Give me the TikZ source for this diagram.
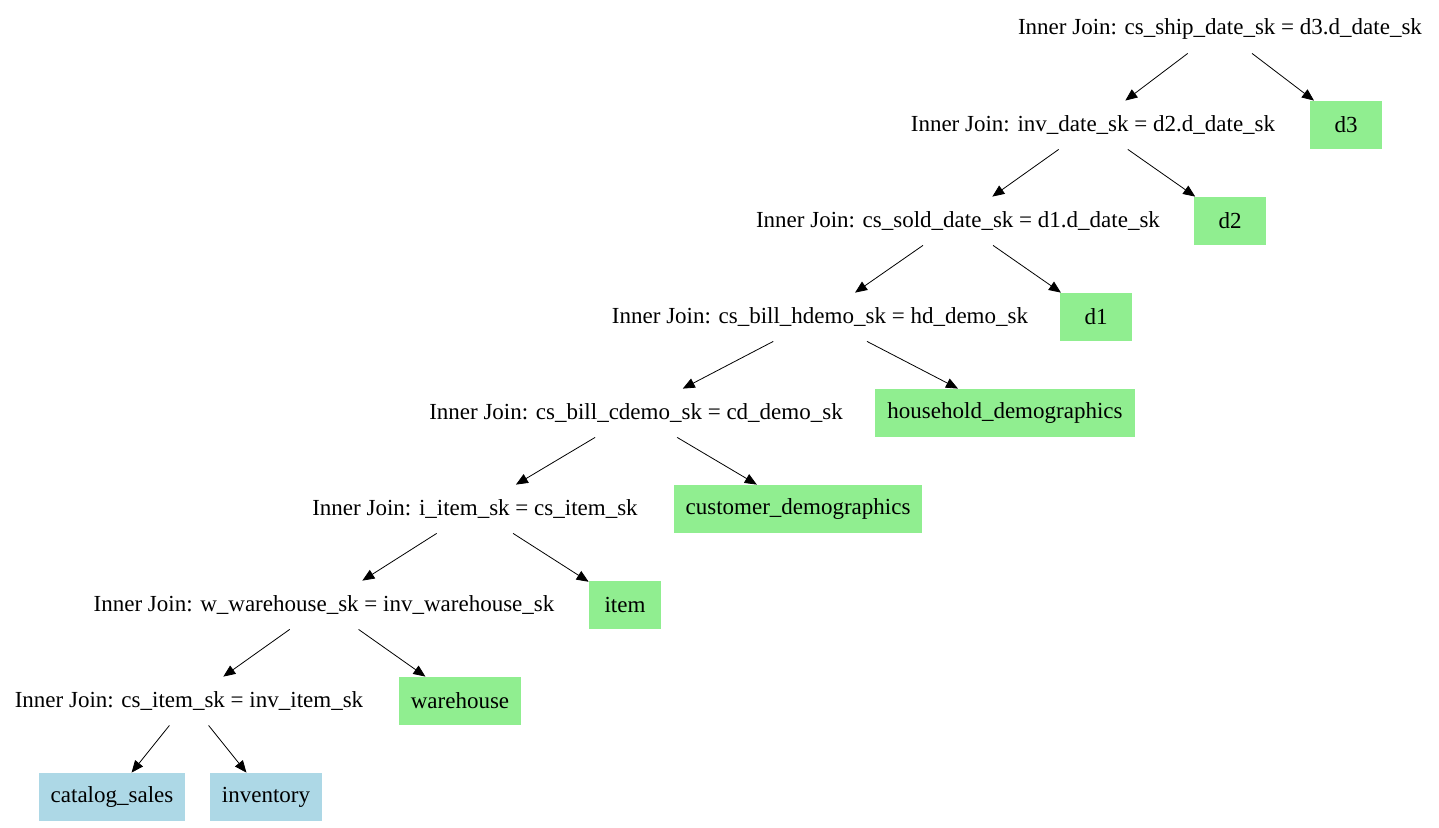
\documentclass[tikz,border=0pt]{standalone}
\usepackage{fontspec}
\setmainfont{Liberation Serif}
\usetikzlibrary{arrows.meta}
\definecolor{lgreen}{HTML}{90EE90}
\definecolor{lblue}{HTML}{ADD8E6}
\tikzset{
    joinnode/.style={minimum height=24pt, inner xsep=4pt, font=\fontsize{11.5}{13}\selectfont},
    tbl/.style={joinnode, fill=lgreen, minimum width=36pt, inner xsep=6pt},
    src/.style={tbl, fill=lblue},
}
\begin{document}
\begin{tikzpicture}[x=0.5pt, y=-0.5pt, >={Triangle[length=6pt,width=5pt]}]
        \useasboundingbox (0,0) rectangle (1439,827);
        % Join-Baum
        \node[joinnode] (j1) at (1220,29) {Inner Join: cs\_ship\_date\_sk = d3.d\_date\_sk};
        \node[joinnode] (j2) at (1093,125) {Inner Join: inv\_date\_sk = d2.d\_date\_sk};
        \node[joinnode] (j3) at (958,221) {Inner Join: cs\_sold\_date\_sk = d1.d\_date\_sk};
        \node[joinnode] (j4) at (820,317) {Inner Join: cs\_bill\_hdemo\_sk = hd\_demo\_sk};
        \node[joinnode] (j5) at (636,413) {Inner Join: cs\_bill\_cdemo\_sk = cd\_demo\_sk};
        \node[joinnode] (j6) at (475,509) {Inner Join: i\_item\_sk = cs\_item\_sk};
        \node[joinnode] (j7) at (324,605) {Inner Join: w\_warehouse\_sk = inv\_warehouse\_sk};
        \node[joinnode] (j8) at (189,701) {Inner Join: cs\_item\_sk = inv\_item\_sk};
        \node[tbl] (d3) at (1346,125) {d3};
        \node[tbl] (d2) at (1230,221) {d2};
        \node[tbl] (d1) at (1096,317) {d1};
        \node[tbl] (hd) at (1005,413) {household\_demographics};
        \node[tbl] (cd) at (798,509) {customer\_demographics};
        \node[tbl] (item) at (625,605) {item};
        \node[tbl] (wh) at (460,701) {warehouse};
        \node[src] (cs) at (112,797) {catalog\_sales};
        \node[src] (inv) at (266,797) {inventory};
        \foreach \a/\b/\c in {j1/j2/d3, j2/j3/d2, j3/j4/d1, j4/j5/hd, j5/j6/cd, j6/j7/item, j7/j8/wh, j8/cs/inv}
        {
            \draw[->] (\a) -- (\b);
            \draw[->] (\a) -- (\c);
        }
    \end{tikzpicture}
\end{document}
